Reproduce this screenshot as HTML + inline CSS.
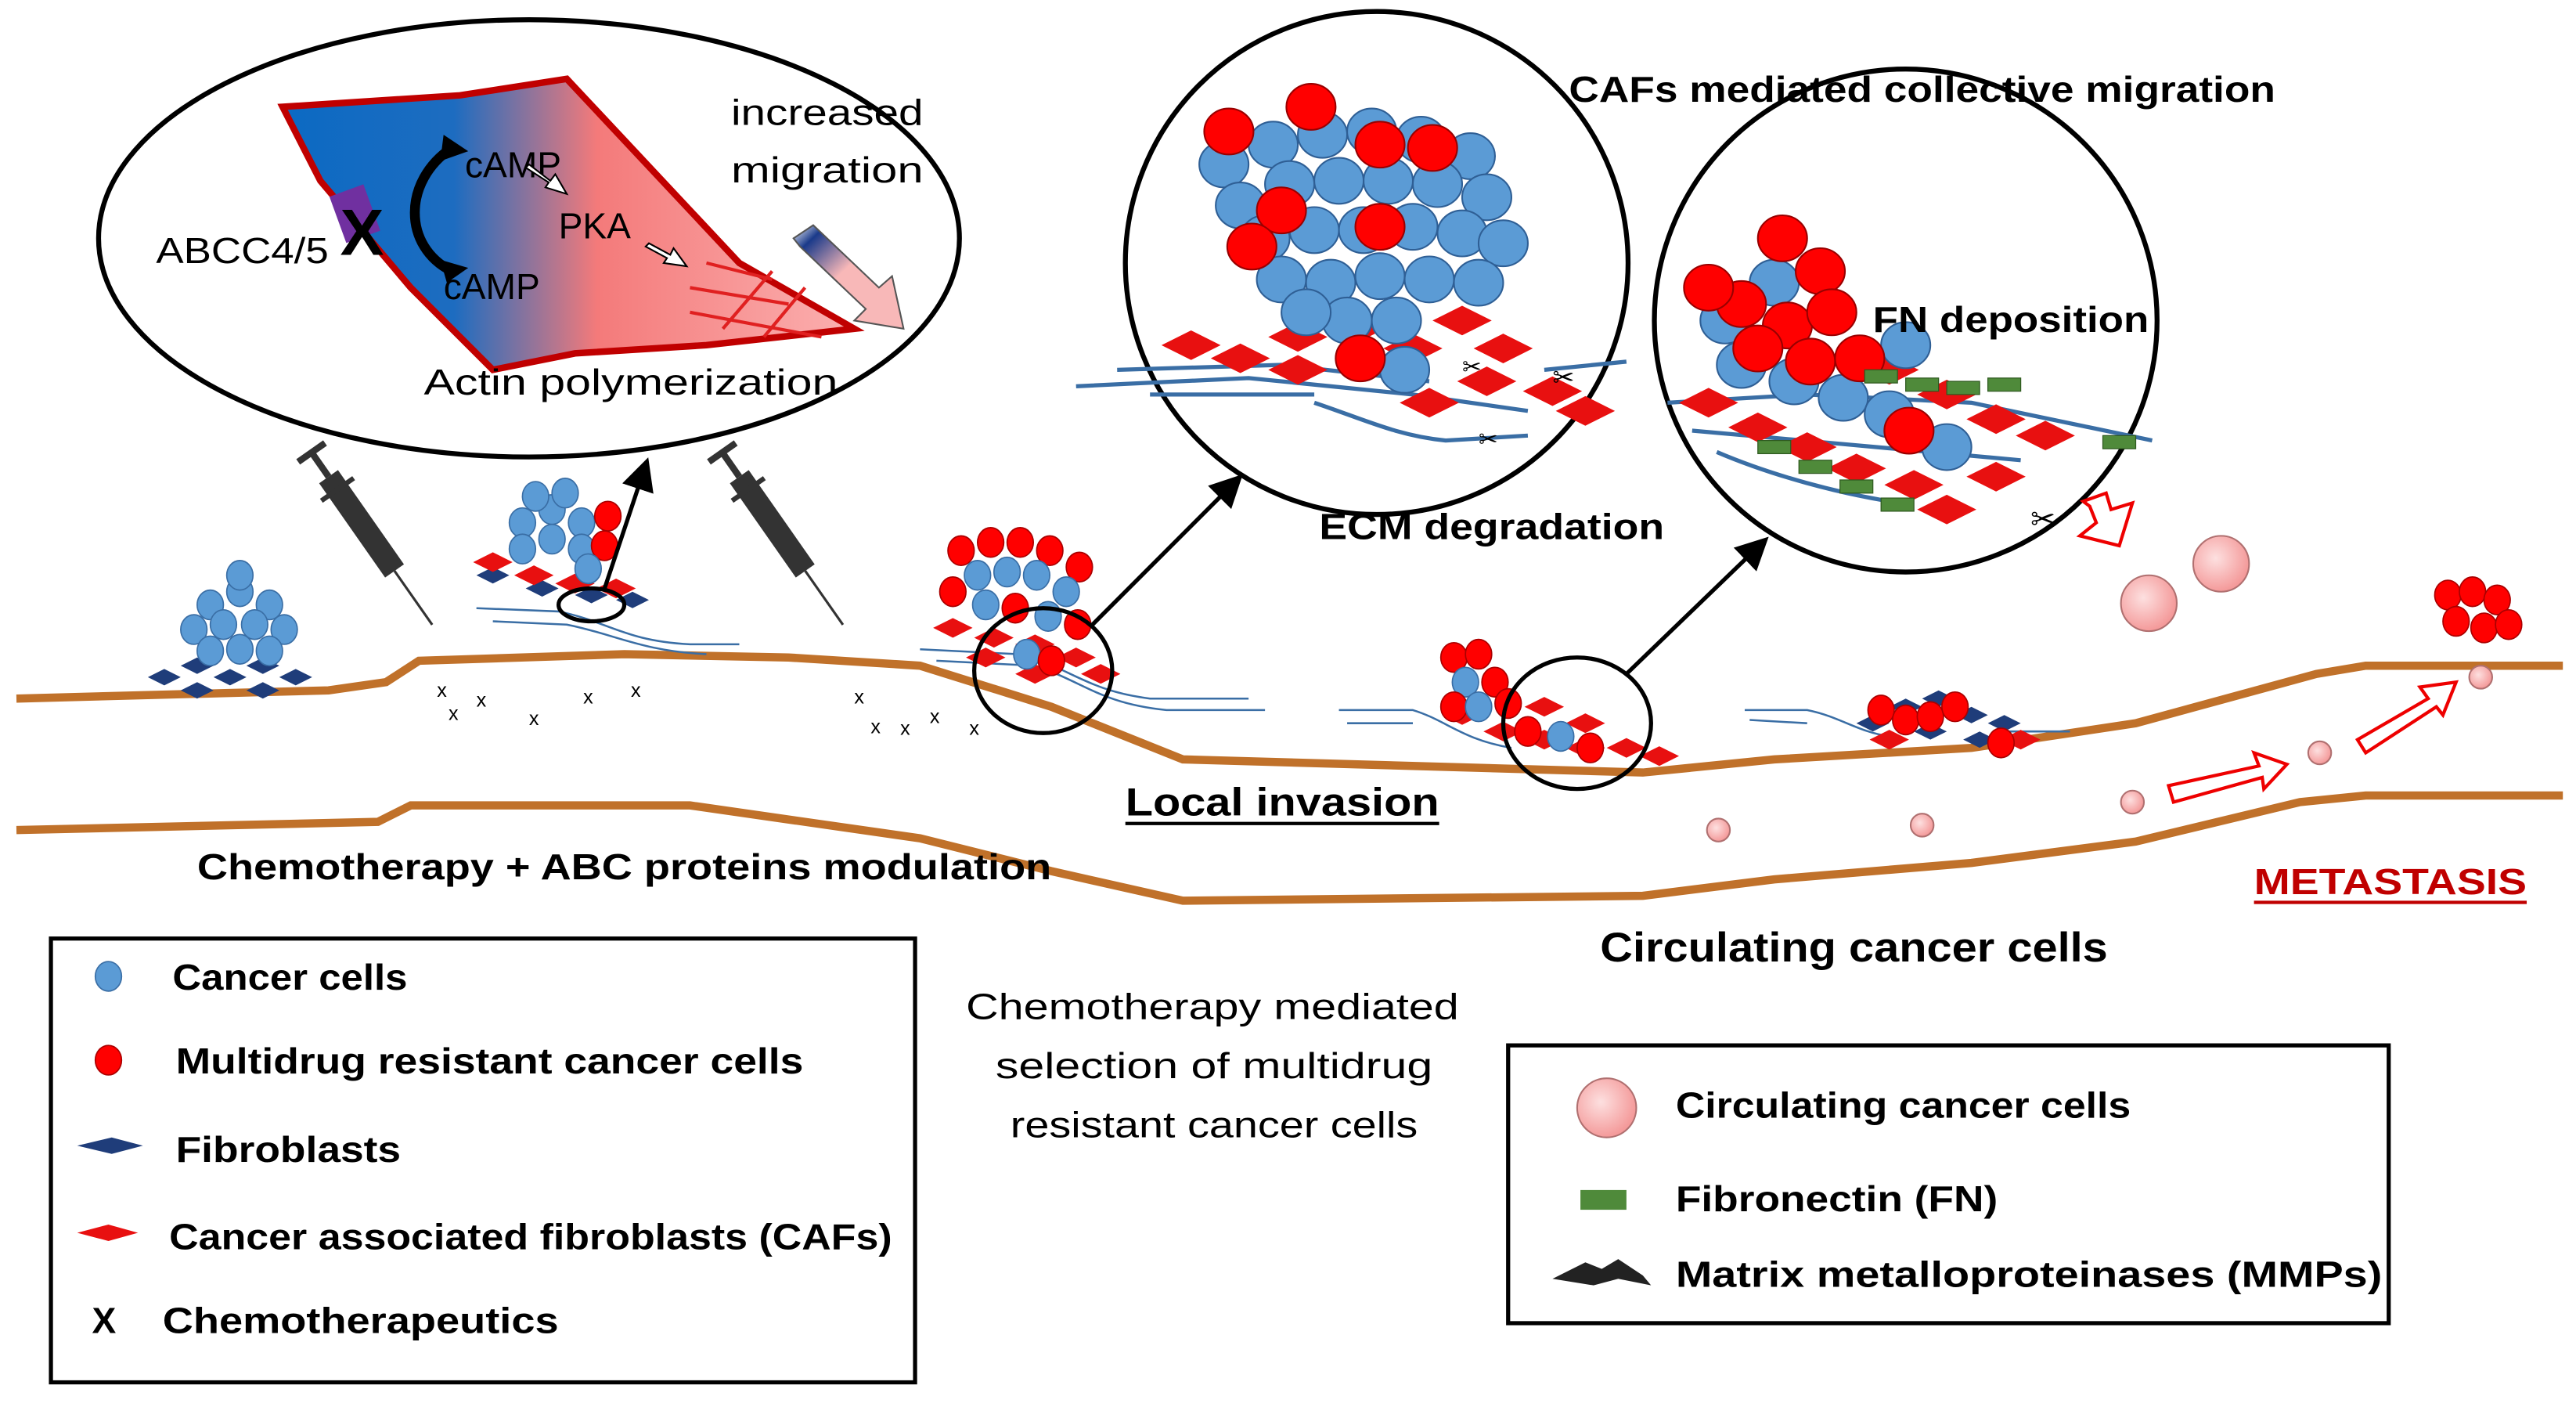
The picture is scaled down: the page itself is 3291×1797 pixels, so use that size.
<!DOCTYPE html>
<html><head><meta charset="utf-8"><style>
html,body{margin:0;padding:0;background:#fff;}
svg{display:block}
text{font-family:"Liberation Sans",sans-serif;}
.b{font-weight:bold}
</style></head><body>
<svg width="3291" height="1797" viewBox="0 0 1568 856" preserveAspectRatio="none" xmlns="http://www.w3.org/2000/svg">
<defs>
<linearGradient id="cell" x1="0" y1="0" x2="1" y2="0">
<stop offset="0" stop-color="#0b6ac3"/><stop offset="0.3" stop-color="#1d6cc0"/><stop offset="0.55" stop-color="#f47a7a"/><stop offset="1" stop-color="#fbb0b0"/></linearGradient>
<linearGradient id="arr" x1="0" y1="0" x2="1" y2="1">
<stop offset="0" stop-color="#fff"/><stop offset="0.15" stop-color="#1a3a8a"/><stop offset="0.45" stop-color="#f8b8b8"/><stop offset="1" stop-color="#f8b8b8"/></linearGradient>
<radialGradient id="pk" cx="0.4" cy="0.4" r="0.6"><stop offset="0" stop-color="#fde0e0"/><stop offset="1" stop-color="#f49a9a"/></radialGradient>
<marker id="ah" markerWidth="8" markerHeight="8" refX="6" refY="4" orient="auto"><path d="M0,0 L8,4 L0,8 z" fill="#000"/></marker>
<g id="bc"><ellipse rx="8" ry="9" fill="#5b9bd5" stroke="#3a6ea5" stroke-width="0.8"/></g>
<g id="rc"><ellipse rx="8" ry="9" fill="#ff0000" stroke="#a00" stroke-width="0.8"/></g>
<g id="bL"><ellipse rx="15" ry="14" fill="#5b9bd5" stroke="#2f5f95" stroke-width="1"/></g>
<g id="rL"><ellipse rx="15" ry="14" fill="#ff0000" stroke="#900" stroke-width="1"/></g>
<g id="fb"><path d="M-10,0 L0,-5 L10,0 L0,5z" fill="#1f3d7a"/></g>
<g id="caf"><path d="M-12,0 L0,-6 L12,0 L0,6z" fill="#e81010"/></g>
<g id="cafL"><path d="M-18,0 L0,-9 L18,0 L0,9z" fill="#e81010"/></g>
</defs>

<!-- tissue lines -->
<path d="M10,425 L200,420 L235,415 L255,402 L380,398 L480,400 L560,405 L640,430 L720,462 L1000,470 L1080,462 L1200,455 L1300,440 L1410,410 L1440,405 L1560,405" fill="none" stroke="#c0712a" stroke-width="5"/>
<path d="M10,505 L230,500 L250,490 L420,490 L560,510 L640,530 L720,548 L1000,545 L1080,535 L1200,525 L1300,512 L1400,488 L1440,484 L1560,484" fill="none" stroke="#c0712a" stroke-width="5"/>

<!-- top-left ellipse -->
<ellipse cx="322" cy="145" rx="262" ry="133" fill="#fff" stroke="#000" stroke-width="3"/>
<path d="M172,65 L280,58 L345,48 L450,160 L520,200 L430,210 L350,215 L300,225 L250,175 L195,110 Z" fill="url(#cell)" stroke="#c00000" stroke-width="4"/>
<g stroke="#e02020" stroke-width="2"><line x1="420" y1="190" x2="500" y2="205"/><line x1="420" y1="175" x2="480" y2="185"/><line x1="430" y1="160" x2="470" y2="170"/><line x1="440" y1="200" x2="470" y2="165"/><line x1="465" y1="205" x2="490" y2="175"/></g>
<rect x="205" y="115" width="22" height="30" fill="#7030a0" transform="rotate(-20 216 130)"/>
<text x="207" y="155" font-size="40" font-weight="bold" fill="#000">X</text>
<path d="M275,90 C245,110 245,150 275,165" fill="none" stroke="#000" stroke-width="6"/>
<path d="M270,82 L285,92 L268,98z" fill="#000"/><path d="M268,158 L285,163 L272,172z" fill="#000"/>
<text x="95" y="160" font-size="22" textLength="105" lengthAdjust="spacingAndGlyphs">ABCC4/5</text>
<text x="283" y="108" font-size="22">cAMP</text>
<text x="270" y="182" font-size="22">cAMP</text>
<text x="340" y="145" font-size="22">PKA</text>
<path d="M322,100 L335,110 L338,106 L345,118 L332,114 L334,111 L320,102z" fill="#fff" stroke="#000"/>
<path d="M395,148 L408,155 L410,151 L418,162 L404,160 L406,157 L393,150z" fill="#fff" stroke="#000"/>
<path d="M483,145 L495,137 L535,175 L543,168 L550,200 L520,195 L527,188 L487,150z" fill="url(#arr)" stroke="#555"/>
<text x="445" y="76" font-size="22" textLength="117" lengthAdjust="spacingAndGlyphs">increased</text>
<text x="445" y="111" font-size="22" textLength="117" lengthAdjust="spacingAndGlyphs">migration</text>
<text x="258" y="240" font-size="22" textLength="252" lengthAdjust="spacingAndGlyphs">Actin polymerization</text>

<!-- circle 2 -->
<circle cx="838" cy="160" r="153" fill="#fff" stroke="#000" stroke-width="3"/>
<g fill="none" stroke="#3a6ea5" stroke-width="2.5"><path d="M655,235 L760,230 L860,240 L930,250"/><path d="M680,225 L780,222 L870,232"/><path d="M800,245 C830,255 850,265 880,268 L930,265"/><path d="M940,225 L990,220"/><path d="M700,240 L800,240"/></g>
<g>
<use href="#cafL" x="725" y="210"/><use href="#cafL" x="755" y="218"/><use href="#cafL" x="790" y="205"/><use href="#cafL" x="825" y="200"/><use href="#cafL" x="860" y="212"/><use href="#cafL" x="890" y="195"/><use href="#cafL" x="915" y="212"/><use href="#cafL" x="945" y="238"/><use href="#cafL" x="965" y="250"/><use href="#cafL" x="905" y="232"/><use href="#cafL" x="870" y="245"/><use href="#cafL" x="790" y="225"/>
</g>
<g>
<use href="#bL" x="745" y="100"/><use href="#bL" x="775" y="88"/><use href="#bL" x="805" y="82"/><use href="#bL" x="835" y="80"/><use href="#bL" x="865" y="85"/><use href="#bL" x="895" y="95"/><use href="#bL" x="905" y="120"/><use href="#bL" x="875" y="112"/><use href="#bL" x="845" y="110"/><use href="#bL" x="815" y="110"/><use href="#bL" x="785" y="112"/><use href="#bL" x="755" y="125"/><use href="#bL" x="770" y="145"/><use href="#bL" x="800" y="140"/><use href="#bL" x="830" y="140"/><use href="#bL" x="860" y="138"/><use href="#bL" x="890" y="142"/><use href="#bL" x="915" y="148"/><use href="#bL" x="780" y="170"/><use href="#bL" x="810" y="172"/><use href="#bL" x="840" y="168"/><use href="#bL" x="870" y="170"/><use href="#bL" x="900" y="172"/><use href="#bL" x="820" y="195"/><use href="#bL" x="850" y="195"/><use href="#bL" x="855" y="225"/><use href="#bL" x="795" y="190"/>
<use href="#rL" x="748" y="80"/><use href="#rL" x="798" y="65"/><use href="#rL" x="840" y="88"/><use href="#rL" x="780" y="128"/><use href="#rL" x="840" y="138"/><use href="#rL" x="828" y="218"/><use href="#rL" x="762" y="150"/><use href="#rL" x="872" y="90"/>
</g>
<text x="890" y="228" font-size="14">✂</text><text x="945" y="235" font-size="16">✂</text><text x="900" y="272" font-size="14">✂</text>

<!-- circle 3 -->
<circle cx="1160" cy="195" r="153" fill="#fff" stroke="#000" stroke-width="3"/>
<g fill="none" stroke="#3a6ea5" stroke-width="2.5"><path d="M1015,245 L1100,240 L1200,245 L1310,268"/><path d="M1030,262 L1120,270 L1230,280"/><path d="M1045,275 C1080,290 1120,300 1150,305"/></g>
<g>
<use href="#cafL" x="1040" y="245"/><use href="#cafL" x="1070" y="260"/><use href="#cafL" x="1100" y="272"/><use href="#cafL" x="1130" y="285"/><use href="#cafL" x="1165" y="295"/><use href="#cafL" x="1150" y="225"/><use href="#cafL" x="1185" y="240"/><use href="#cafL" x="1215" y="255"/><use href="#cafL" x="1245" y="265"/><use href="#cafL" x="1185" y="310"/><use href="#cafL" x="1215" y="290"/>
</g>
<g>
<use href="#bL" x="1050" y="195"/><use href="#bL" x="1060" y="222"/><use href="#bL" x="1080" y="172"/><use href="#bL" x="1092" y="232"/><use href="#bL" x="1122" y="242"/><use href="#bL" x="1150" y="252"/><use href="#bL" x="1185" y="272"/><use href="#bL" x="1160" y="210"/>
<use href="#rL" x="1085" y="145"/><use href="#rL" x="1108" y="165"/><use href="#rL" x="1060" y="185"/><use href="#rL" x="1088" y="198"/><use href="#rL" x="1115" y="190"/><use href="#rL" x="1040" y="175"/><use href="#rL" x="1102" y="220"/><use href="#rL" x="1132" y="218"/><use href="#rL" x="1162" y="262"/><use href="#rL" x="1070" y="212"/>
</g>
<g fill="#4f8a3a" stroke="#2f5a20" stroke-width="0.6">
<rect x="1135" y="225" width="20" height="8"/><rect x="1160" y="230" width="20" height="8"/><rect x="1185" y="232" width="20" height="8"/><rect x="1210" y="230" width="20" height="8"/><rect x="1070" y="268" width="20" height="8"/><rect x="1095" y="280" width="20" height="8"/><rect x="1120" y="292" width="20" height="8"/><rect x="1145" y="303" width="20" height="8"/><rect x="1280" y="265" width="20" height="8"/>
</g>
<text x="1140" y="202" font-size="22" class="b" textLength="168" lengthAdjust="spacingAndGlyphs">FN deposition</text>
<text x="1236" y="322" font-size="18">✂</text>
<path d="M1268,305 L1282,300 L1285,310 L1298,306 L1290,332 L1266,326 L1276,318 L1272,308z" fill="#fff" stroke="#e00" stroke-width="2"/>

<!-- top labels -->
<text x="955" y="62" font-size="22" class="b" textLength="430" lengthAdjust="spacingAndGlyphs">CAFs mediated collective migration</text>
<text x="803" y="328" font-size="22" class="b" textLength="210" lengthAdjust="spacingAndGlyphs">ECM degradation</text>

<!-- circulating cells -->
<circle cx="1308" cy="367" r="17" fill="url(#pk)" stroke="#b07070"/>
<circle cx="1352" cy="343" r="17" fill="url(#pk)" stroke="#b07070"/>
<circle cx="1046" cy="505" r="7" fill="url(#pk)" stroke="#b07070"/>
<circle cx="1170" cy="502" r="7" fill="url(#pk)" stroke="#b07070"/>
<circle cx="1298" cy="488" r="7" fill="url(#pk)" stroke="#b07070"/>
<circle cx="1412" cy="458" r="7" fill="url(#pk)" stroke="#b07070"/>
<circle cx="1510" cy="412" r="7" fill="url(#pk)" stroke="#b07070"/>
<path d="M1320,478 L1375,466 L1372,458 L1392,465 L1378,480 L1377,473 L1323,488z" fill="#fff" stroke="#e00" stroke-width="2"/>
<path d="M1435,450 L1478,425 L1473,418 L1495,415 L1487,435 L1483,430 L1440,458z" fill="#fff" stroke="#e00" stroke-width="2"/>
<g><use href="#rc" x="1490" y="362"/><use href="#rc" x="1505" y="360"/><use href="#rc" x="1520" y="365"/><use href="#rc" x="1495" y="378"/><use href="#rc" x="1512" y="382"/><use href="#rc" x="1527" y="380"/></g>

<!-- tumor 1 -->
<g><use href="#fb" x="100" y="412"/><use href="#fb" x="120" y="405"/><use href="#fb" x="140" y="412"/><use href="#fb" x="160" y="405"/><use href="#fb" x="180" y="412"/><use href="#fb" x="120" y="420"/><use href="#fb" x="160" y="420"/></g>
<g><use href="#bc" x="128" y="368"/><use href="#bc" x="146" y="360"/><use href="#bc" x="164" y="368"/><use href="#bc" x="118" y="383"/><use href="#bc" x="136" y="380"/><use href="#bc" x="155" y="380"/><use href="#bc" x="173" y="383"/><use href="#bc" x="128" y="396"/><use href="#bc" x="146" y="395"/><use href="#bc" x="164" y="396"/><use href="#bc" x="146" y="350"/></g>

<!-- syringes -->
<g transform="translate(200,290) rotate(-35)"><rect x="-7" y="0" width="14" height="70" fill="#333"/><rect x="-2" y="-18" width="4" height="18" fill="#333"/><rect x="-10" y="-20" width="20" height="4" fill="#333"/><rect x="-12" y="8" width="24" height="3" fill="#333"/><line x1="0" y1="70" x2="0" y2="110" stroke="#333" stroke-width="1.5"/></g>
<g transform="translate(450,290) rotate(-35)"><rect x="-7" y="0" width="14" height="70" fill="#333"/><rect x="-2" y="-18" width="4" height="18" fill="#333"/><rect x="-10" y="-20" width="20" height="4" fill="#333"/><rect x="-12" y="8" width="24" height="3" fill="#333"/><line x1="0" y1="70" x2="0" y2="110" stroke="#333" stroke-width="1.5"/></g>

<!-- chemo X marks -->
<g font-size="12"><text x="266" y="424">x</text><text x="273" y="438">x</text><text x="290" y="430">x</text><text x="322" y="441">x</text><text x="355" y="428">x</text><text x="384" y="424">x</text><text x="520" y="428">x</text><text x="530" y="446">x</text><text x="548" y="447">x</text><text x="566" y="440">x</text><text x="590" y="447">x</text></g>

<!-- tumor 2 -->
<g fill="none" stroke="#3a6ea5" stroke-width="1.2"><path d="M290,370 L340,372 C370,378 380,390 420,392 L450,392"/><path d="M300,378 L345,380 C375,386 390,396 430,398"/></g>
<g><use href="#fb" x="300" y="350"/><use href="#fb" x="330" y="358"/><use href="#fb" x="360" y="362"/><use href="#fb" x="385" y="365"/><use href="#caf" x="300" y="342"/><use href="#caf" x="325" y="350"/><use href="#caf" x="350" y="355"/><use href="#caf" x="375" y="358"/></g>
<g><use href="#bc" x="318" y="318"/><use href="#bc" x="336" y="310"/><use href="#bc" x="354" y="318"/><use href="#bc" x="344" y="300"/><use href="#bc" x="326" y="302"/><use href="#bc" x="318" y="334"/><use href="#bc" x="336" y="328"/><use href="#bc" x="354" y="334"/><use href="#rc" x="370" y="314"/><use href="#rc" x="368" y="332"/><use href="#bc" x="358" y="346"/></g>
<ellipse cx="360" cy="368" rx="20" ry="10" fill="none" stroke="#000" stroke-width="2.5"/>
<line x1="368" y1="358" x2="393" y2="283" stroke="#000" stroke-width="2.5" marker-end="url(#ah)"/>

<!-- tumor 3 -->
<g fill="none" stroke="#3a6ea5" stroke-width="1.2"><path d="M560,395 L620,398 C650,405 660,420 700,425 L760,425"/><path d="M570,402 L630,405 C660,415 670,428 710,432 L770,432"/></g>
<g><use href="#caf" x="580" y="382"/><use href="#caf" x="605" y="388"/><use href="#caf" x="630" y="392"/><use href="#caf" x="655" y="400"/><use href="#caf" x="600" y="400"/><use href="#caf" x="630" y="410"/><use href="#caf" x="670" y="410"/></g>
<g><use href="#rc" x="585" y="335"/><use href="#rc" x="603" y="330"/><use href="#rc" x="621" y="330"/><use href="#rc" x="639" y="335"/><use href="#rc" x="657" y="345"/><use href="#bc" x="595" y="350"/><use href="#bc" x="613" y="348"/><use href="#bc" x="631" y="350"/><use href="#bc" x="649" y="360"/><use href="#rc" x="580" y="360"/><use href="#bc" x="600" y="368"/><use href="#rc" x="618" y="370"/><use href="#bc" x="638" y="375"/><use href="#rc" x="656" y="380"/><use href="#bc" x="625" y="398"/><use href="#rc" x="640" y="402"/></g>
<ellipse cx="635" cy="408" rx="42" ry="38" fill="none" stroke="#000" stroke-width="2.5"/>
<line x1="665" y1="380" x2="753" y2="292" stroke="#000" stroke-width="2.5" marker-end="url(#ah)"/>

<!-- tumor 4 -->
<g fill="none" stroke="#3a6ea5" stroke-width="1.2"><path d="M815,432 L860,432 C880,438 890,450 920,455"/><path d="M820,440 L860,440"/></g>
<g><use href="#caf" x="890" y="435"/><use href="#caf" x="915" y="445"/><use href="#caf" x="940" y="450"/><use href="#caf" x="965" y="455"/><use href="#caf" x="990" y="455"/><use href="#caf" x="1010" y="460"/><use href="#caf" x="940" y="430"/><use href="#caf" x="965" y="440"/></g>
<g><use href="#rc" x="885" y="400"/><use href="#rc" x="900" y="398"/><use href="#bc" x="892" y="415"/><use href="#rc" x="910" y="415"/><use href="#rc" x="885" y="430"/><use href="#bc" x="900" y="430"/><use href="#rc" x="918" y="428"/><use href="#rc" x="930" y="445"/><use href="#bc" x="950" y="448"/><use href="#rc" x="968" y="455"/></g>
<ellipse cx="960" cy="440" rx="45" ry="40" fill="none" stroke="#000" stroke-width="2.5"/>
<line x1="990" y1="410" x2="1073" y2="330" stroke="#000" stroke-width="2.5" marker-end="url(#ah)"/>

<!-- tumor 5 -->
<g fill="none" stroke="#3a6ea5" stroke-width="1.2"><path d="M1062,432 L1100,432 C1120,436 1130,445 1150,448"/><path d="M1065,438 L1100,440"/><path d="M1220,445 L1260,445"/></g>
<g><use href="#fb" x="1140" y="440"/><use href="#fb" x="1160" y="430"/><use href="#fb" x="1180" y="425"/><use href="#fb" x="1200" y="435"/><use href="#fb" x="1220" y="440"/><use href="#fb" x="1175" y="445"/><use href="#fb" x="1205" y="450"/><use href="#caf" x="1150" y="450"/><use href="#caf" x="1230" y="450"/></g>
<g><use href="#rc" x="1145" y="432"/><use href="#rc" x="1160" y="438"/><use href="#rc" x="1175" y="436"/><use href="#rc" x="1190" y="430"/><use href="#rc" x="1218" y="452"/></g>

<!-- mid labels -->
<text x="685" y="496" font-size="24" class="b" textLength="191" lengthAdjust="spacingAndGlyphs">Local invasion</text>
<line x1="685" y1="501" x2="876" y2="501" stroke="#000" stroke-width="2"/>
<text x="120" y="535" font-size="22" class="b" textLength="520" lengthAdjust="spacingAndGlyphs">Chemotherapy + ABC proteins modulation</text>
<text x="1372" y="544" font-size="22" class="b" fill="#c00000" textLength="166" lengthAdjust="spacingAndGlyphs">METASTASIS</text>
<line x1="1372" y1="549" x2="1538" y2="549" stroke="#c00000" stroke-width="2"/>
<text x="974" y="585" font-size="25" class="b" textLength="309" lengthAdjust="spacingAndGlyphs">Circulating cancer cells</text>
<text x="588" y="620" font-size="22" textLength="300" lengthAdjust="spacingAndGlyphs">Chemotherapy mediated</text>
<text x="606" y="656" font-size="22" textLength="266" lengthAdjust="spacingAndGlyphs">selection of multidrug</text>
<text x="615" y="692" font-size="22" textLength="248" lengthAdjust="spacingAndGlyphs">resistant cancer cells</text>

<!-- legend 1 -->
<rect x="31" y="571" width="526" height="270" fill="#fff" stroke="#000" stroke-width="2.5"/>
<use href="#bc" x="66" y="594"/>
<text x="105" y="602" font-size="22" class="b" textLength="143" lengthAdjust="spacingAndGlyphs">Cancer cells</text>
<use href="#rc" x="66" y="645"/>
<text x="107" y="653" font-size="22" class="b" textLength="382" lengthAdjust="spacingAndGlyphs">Multidrug resistant cancer cells</text>
<path d="M47,697 L68,692 L87,697 L68,702z" fill="#1f3d7a"/>
<text x="107" y="707" font-size="22" class="b" textLength="137" lengthAdjust="spacingAndGlyphs">Fibroblasts</text>
<path d="M47,750 L66,745 L84,750 L66,755z" fill="#e81010"/>
<text x="103" y="760" font-size="22" class="b" textLength="440" lengthAdjust="spacingAndGlyphs">Cancer associated fibroblasts (CAFs)</text>
<text x="56" y="811" font-size="22" class="b">X</text>
<text x="99" y="811" font-size="22" class="b" textLength="241" lengthAdjust="spacingAndGlyphs">Chemotherapeutics</text>

<!-- legend 2 -->
<rect x="918" y="636" width="536" height="169" fill="#fff" stroke="#000" stroke-width="2.5"/>
<circle cx="978" cy="674" r="18" fill="url(#pk)" stroke="#b07070"/>
<text x="1020" y="680" font-size="22" class="b" textLength="277" lengthAdjust="spacingAndGlyphs">Circulating cancer cells</text>
<rect x="962" y="724" width="28" height="12" fill="#4f8a3a"/>
<text x="1020" y="737" font-size="22" class="b" textLength="196" lengthAdjust="spacingAndGlyphs">Fibronectin (FN)</text>
<path d="M945,778 L965,768 L975,772 L985,766 L1000,776 L1005,782 L985,778 L970,782z" fill="#222"/>
<text x="1020" y="783" font-size="22" class="b" textLength="430" lengthAdjust="spacingAndGlyphs">Matrix metalloproteinases (MMPs)</text>
</svg>
</body></html>
